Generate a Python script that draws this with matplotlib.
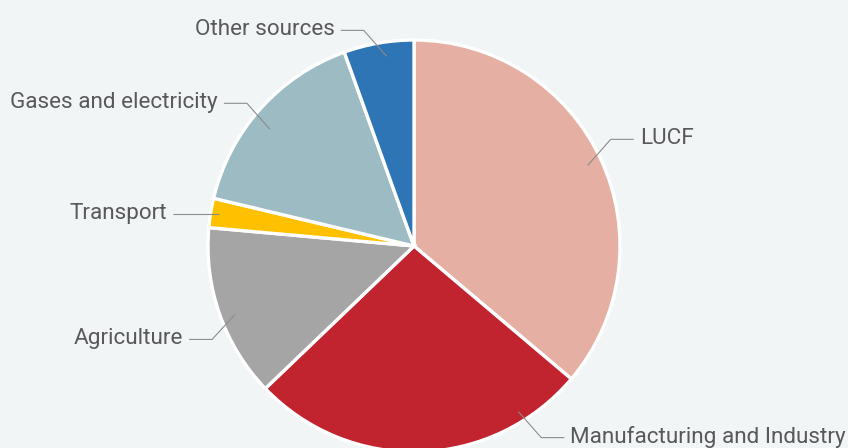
import numpy as np
import matplotlib
matplotlib.use("Agg")
import matplotlib.pyplot as plt

plt.rcParams['font.family'] = ['Roboto', 'DejaVu Sans']

sources = ["LUCF", "Manufacturing and Industry", "Agriculture", "Transport",
           "Gases and electricity", "Other sources"]
shares = [36.2, 26.7, 13.6, 2.3, 15.8, 5.5]
colors = ["#E5AFA3", "#C1232F", "#A5A5A5", "#FFC000", "#9DBBC3", "#2E75B6"]

BG = "#F2F5F6"
TXT = "#595959"
W, H = 848, 448
CX, CY, R = 414, 246, 206  # pie centre and radius in pixels

fig = plt.figure(figsize=(W / 100, H / 100), dpi=100, facecolor=BG)
ax = fig.add_axes([0, 0, 1, 1])
ax.set_facecolor(BG)

wedges, _ = ax.pie(shares, colors=colors, startangle=90, counterclock=False,
                   radius=1.0, wedgeprops=dict(edgecolor="white", linewidth=2.4))

ax.set_xlim(-CX / R, (W - CX) / R)
ax.set_ylim(-(H - CY) / R, CY / R)
ax.set_aspect("auto")
ax.axis("off")

px = 1.0 / R
# leader line start: angle tweaks (degrees) and radius for each label
anchor_shift = [0, 30.4, 1.6, 0, 2.8, -1.7]
anchor_r = [0.93, 0.95, 0.93, 0.96, 0.90, 0.93]
elbow_dy = [26, -26, -25, 0, 26, 26]

for i, (w, name) in enumerate(zip(wedges, sources)):
    mid = (w.theta1 + w.theta2) / 2
    ang = np.deg2rad(mid + anchor_shift[i])
    x0, y0 = anchor_r[i] * np.cos(ang), anchor_r[i] * np.sin(ang)
    side = 1 if np.cos(ang) > 0 else -1
    if elbow_dy[i] == 0:
        xs = [x0, x0 + side * 46 * px]
        ys = [y0, y0]
    else:
        x1 = x0 + side * 23 * px
        y1 = y0 + elbow_dy[i] * px
        xs = [x0, x1, x1 + side * 23 * px]
        ys = [y0, y1, y1]
    ax.plot(xs, ys, color="#8C8C8C", lw=0.8, solid_capstyle="butt")
    ax.text(xs[-1] + side * 6 * px, ys[-1] + 1 * px, name, color=TXT, fontsize=16.2,
            ha="left" if side > 0 else "right", va="center")

fig.savefig("out.png", dpi=100, facecolor=BG)
